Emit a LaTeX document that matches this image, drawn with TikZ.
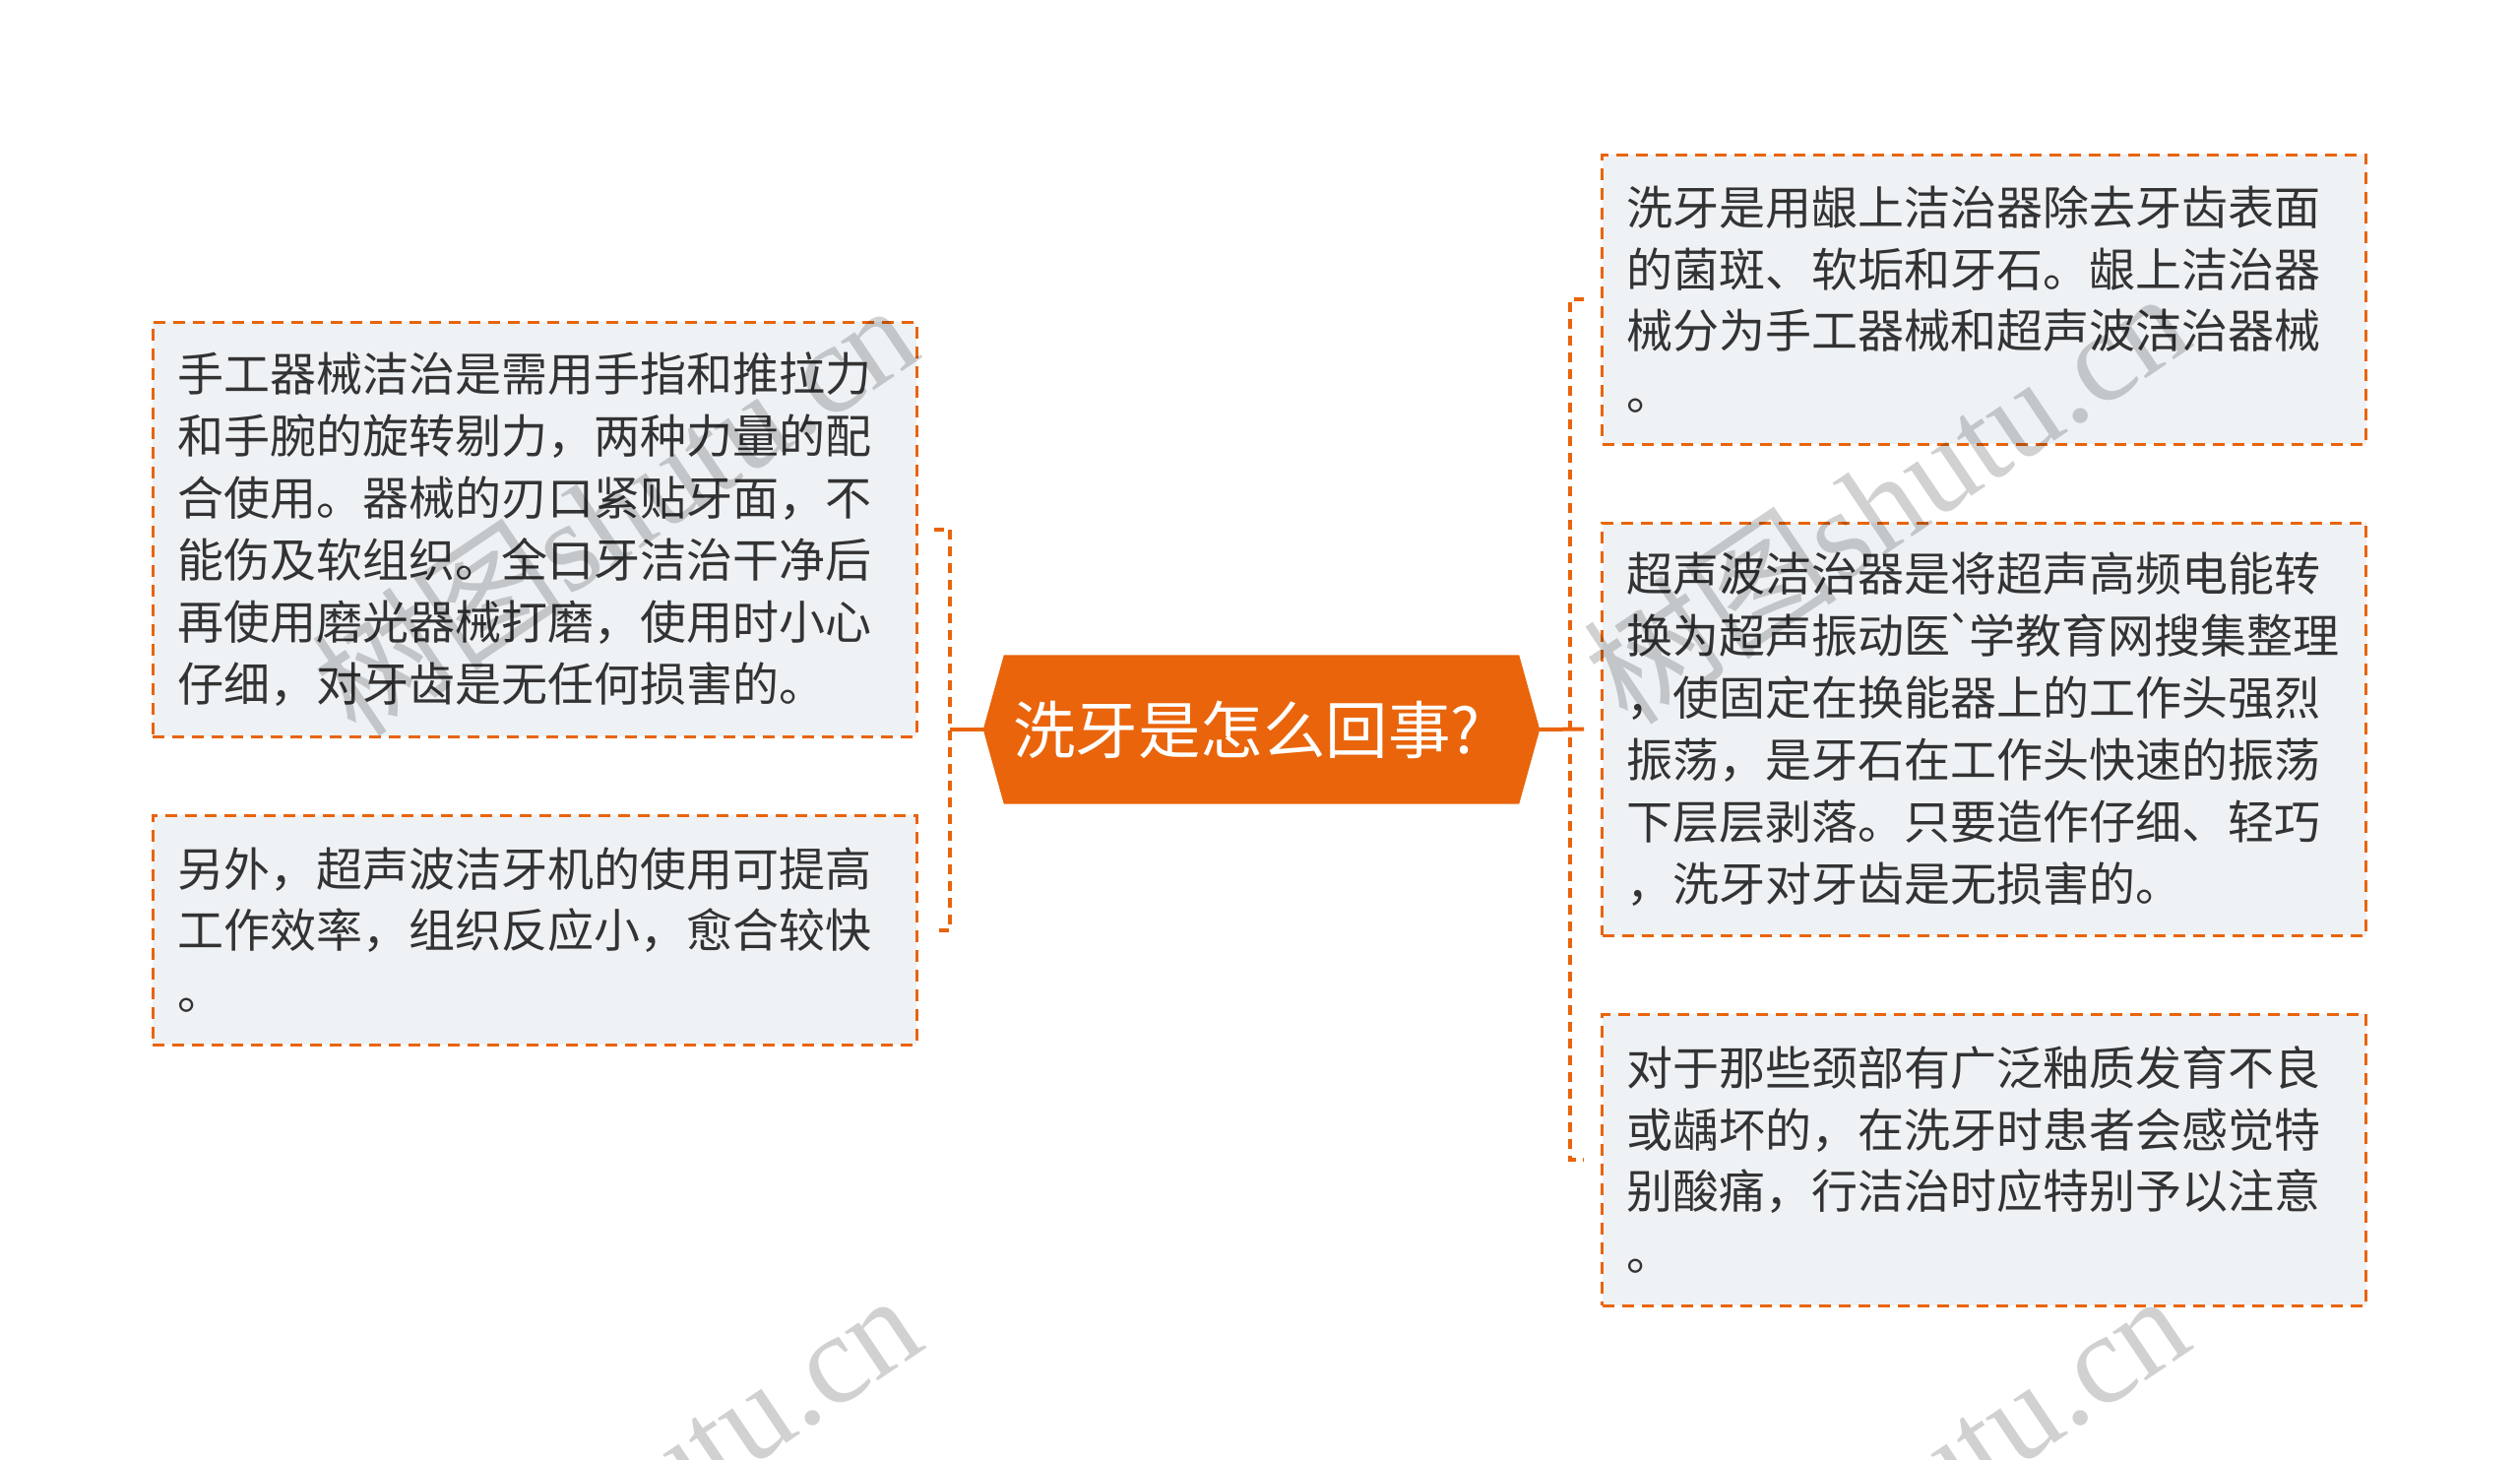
\documentclass[tikz,border=0pt]{standalone}
\usepackage{fontspec}
\newfontfamily\cjk{Noto Sans CJK SC}
\newfontfamily\wmserif{Liberation Serif}
\usetikzlibrary{calc,backgrounds}
\definecolor{orng}{HTML}{E9640B}
\definecolor{boxfill}{HTML}{EFF2F5}
\definecolor{txt}{HTML}{333333}
\tikzset{
  textbox/.style={draw=orng, fill=boxfill, line width=3pt, dash pattern=on 12pt off 8pt,
    rectangle, text width=726pt, inner xsep=25pt, inner ysep=0pt, align=left,
    font=\cjk\fontsize{47}{62.9}\selectfont, text=txt},
  topic/.style={rectangle, minimum width=565pt, minimum height=151pt, inner sep=0pt,
    text=white, font=\cjk\fontsize{63.5}{63.5}\selectfont},
  conn/.style={draw=orng, line width=4pt},
  conndash/.style={conn, dash pattern=on 10pt off 7pt},
  wm/.style={text=black, text opacity=0.18, font=\fontsize{130}{130}\selectfont, inner sep=0pt}
}
\begin{document}
\begin{tikzpicture}[x=1pt,y=-1pt]
\useasboundingbox (0,0) rectangle (2560,1483);

\node[topic] (c) at (1281.5,741) {洗牙是怎么回事?\kern30pt};
\begin{scope}[on background layer]
\fill[white] (0,0) rectangle (2560,1483);
\fill[orng] (c.west) -- ($(c.north west)+(21,0)$) -- ($(c.north east)+(-21,0)$) -- (c.east)
  -- ($(c.south east)+(-21,0)$) -- ($(c.south west)+(21,0)$) -- cycle;
\end{scope}

\node[textbox, minimum height=421pt] (l1) at (543,537.5) {手工器械洁治是需用手指和推拉力\\和手腕的旋转剔力，两种力量的配\\合使用。器械的刃口紧贴牙面，不\\能伤及软组织。全口牙洁治干净后\\再使用磨光器械打磨，使用时小心\\仔细，对牙齿是无任何损害的。};
\node[textbox, minimum height=233pt] (l2) at (543,944.5) {另外，超声波洁牙机的使用可提高\\工作效率，组织反应小，愈合较快\\。};
\node[textbox, minimum height=294pt] (r1) at (2015.5,304) {洗牙是用龈上洁治器除去牙齿表面\\的菌斑、软垢和牙石。龈上洁治器\\械分为手工器械和超声波洁治器械\\。};
\node[textbox, minimum height=419pt] (r2) at (2015.5,740.5) {超声波洁治器是将超声高频电能转\\换为超声振动医\kern-4pt`\kern-6pt学教育网搜集整理\\，使固定在换能器上的工作头强烈\\振荡，是牙石在工作头快速的振荡\\下层层剥落。只要造作仔细、轻巧\\，洗牙对牙齿是无损害的。};
\node[textbox, minimum height=296pt] (r3) at (2015.5,1178) {对于那些颈部有广泛釉质发育不良\\或龋坏的，在洗牙时患者会感觉特\\别酸痛，行洁治时应特别予以注意\\。};

\coordinate (lj) at (965,741);
\coordinate (rj) at (1595,741);
\draw[conn] (c.west) -- (lj);
\draw[conndash] ($(l1.east)+(16,0)$) -| (lj) |- ($(l2.east)+(16,0)$);
\draw[conn] (c.east) -- ($(r2.west)+(-17,0)$);
\draw[conndash] ($(r1.west)+(-17,0)$) -| (rj) |- ($(r3.west)+(-17,0)$);

\node[wm, anchor=base east, rotate=34] (w1) at (940,362) {\cjk 树图\wmserif shutu.cn};
\node[wm, anchor=base east, rotate=34] (w2) at (2232,350) {\cjk 树图\wmserif shutu.cn};
\node[wm, anchor=base east, rotate=34] (w3) at (944,1368) {\cjk 树图\wmserif shutu.cn};
\node[wm, anchor=base east, rotate=34] (w4) at (2232,1368) {\cjk 树图\wmserif shutu.cn};
\end{tikzpicture}
\end{document}
